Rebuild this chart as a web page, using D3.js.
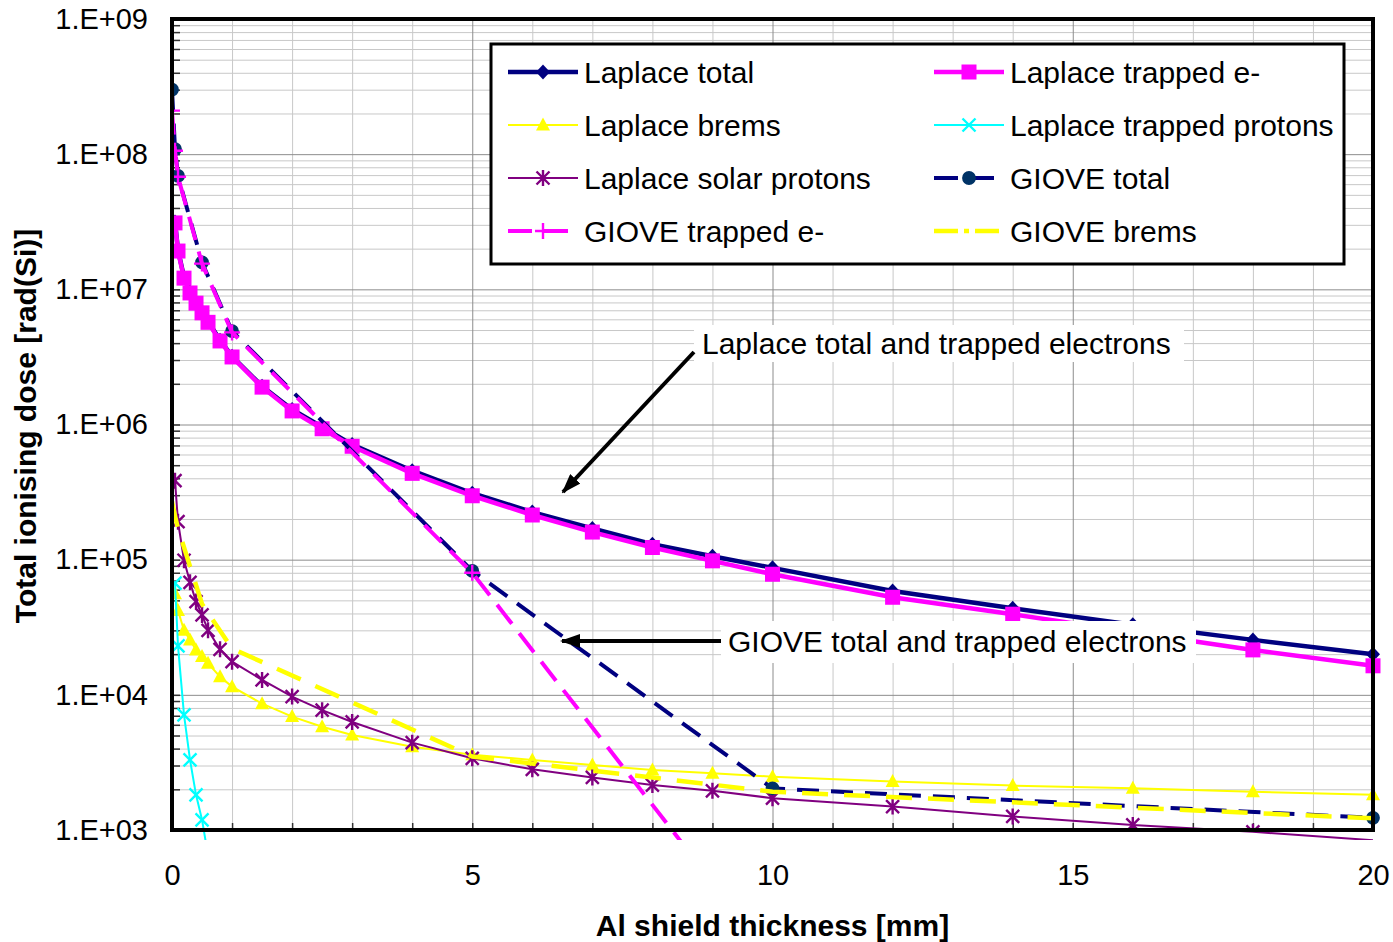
<!DOCTYPE html>
<html>
<head>
<meta charset="utf-8">
<script src="https://cdn.jsdelivr.net/npm/d3@7"></script>
<style>
  body { margin: 0; background: #fff; }
  text { font-family: "Liberation Sans", Arial, sans-serif; fill: #000; }
</style>
</head>
<body>
<div id="chart"></div>
<script>
// thickness values (mm)
const laplaceX = [0.05, 0.1, 0.2, 0.3, 0.4, 0.5, 0.6, 0.8, 1, 1.5, 2, 2.5, 3, 4, 5, 6, 7, 8, 9, 10, 12, 14, 16, 18, 20];
const gioveX = [0, 0.05, 0.1, 0.5, 1, 5, 10, 20];

// dose values rad(Si)
const laplaceTotal = [3.15e7, 1.95e7, 1.23e7, 9.5e6, 8.0e6, 6.8e6, 5.8e6, 4.2e6, 3.2e6, 1.92e6, 1.29e6, 9.6e5, 7.1e5, 4.55e5, 3.1e5, 2.25e5, 1.7e5, 1.3e5, 1.06e5, 8.7e4, 5.86e4, 4.37e4, 3.3e4, 2.55e4, 2.0e4];
const laplaceTrappedE = [3.1e7, 1.92e7, 1.21e7, 9.4e6, 7.9e6, 6.7e6, 5.7e6, 4.15e6, 3.16e6, 1.89e6, 1.26e6, 9.3e5, 6.9e5, 4.35e5, 2.97e5, 2.14e5, 1.6e5, 1.23e5, 9.8e4, 7.8e4, 5.27e4, 3.95e4, 2.9e4, 2.15e4, 1.64e4];
const laplaceBrems = [5.6e4, 4.2e4, 3.0e4, 2.55e4, 2.15e4, 1.92e4, 1.71e4, 1.36e4, 1.15e4, 8.6e3, 6.9e3, 5.8e3, 5.05e3, 4.13e3, 3.6e3, 3.3e3, 3.03e3, 2.78e3, 2.63e3, 2.48e3, 2.28e3, 2.13e3, 2.04e3, 1.92e3, 1.82e3];
const laplaceTrappedP = [6.7e4, 2.3e4, 7.1e3, 3.3e3, 1.82e3, 1.19e3, 6.5e2, null, null, null, null, null, null, null, null, null, null, null, null, null, null, null, null, null, null];
const laplaceSolarP = [3.84e5, 1.91e5, 9.9e4, 6.8e4, 4.9e4, 3.9e4, 3.0e4, 2.17e4, 1.76e4, 1.29e4, 9.7e3, 7.7e3, 6.3e3, 4.43e3, 3.39e3, 2.81e3, 2.45e3, 2.15e3, 1.95e3, 1.72e3, 1.49e3, 1.26e3, 1.09e3, 9.7e2, 8.4e2];
const gioveTotal = [3.0e8, 1.09e8, 6.9e7, 1.58e7, 4.9e6, 8.25e4, 2.03e3, 1.23e3];
const gioveTrappedE = [2.1e8, 1.06e8, 6.8e7, 1.55e7, 4.8e6, 8.0e4, 1.1e2, null];
const gioveBrems = [2.7e5, 2.1e5, 1.7e5, 4.7e4, 2.2e4, 3.5e3, 1.92e3, 1.22e3];

const xTicks = [0, 5, 10, 15, 20];
const yTicks = [1e3, 1e4, 1e5, 1e6, 1e7, 1e8, 1e9];

const series = [
  {name: "Laplace total", xs: laplaceX, ys: laplaceTotal, color: "#000080", w: 4.5, dash: null, legDash: null, marker: "diamond", mcolor: "#000080"},
  {name: "Laplace trapped e-", xs: laplaceX, ys: laplaceTrappedE, color: "#ff00ff", w: 4.5, dash: null, legDash: null, marker: "square", mcolor: "#ff00ff"},
  {name: "Laplace brems", xs: laplaceX, ys: laplaceBrems, color: "#ffff00", w: 2, dash: null, legDash: null, marker: "triangle", mcolor: "#ffff00"},
  {name: "Laplace trapped protons", xs: laplaceX, ys: laplaceTrappedP, color: "#00ffff", w: 2, dash: null, legDash: null, marker: "cross", mcolor: "#00ffff"},
  {name: "Laplace solar protons", xs: laplaceX, ys: laplaceSolarP, color: "#800080", w: 2, dash: null, legDash: null, marker: "star", mcolor: "#800080"},
  {name: "GIOVE total", xs: gioveX, ys: gioveTotal, color: "#000080", w: 4, dash: "22,12", legDash: "24,12", marker: "circle", mcolor: "#003366"},
  {name: "GIOVE trapped e-", xs: gioveX, ys: gioveTrappedE, color: "#ff00ff", w: 4, dash: "24,12", legDash: "24,12", marker: "plus", mcolor: "#ff00ff"},
  {name: "GIOVE brems", xs: gioveX, ys: gioveBrems, color: "#ffff00", w: 4.5, dash: "26,16", legDash: "24,6,5,6", marker: "none", mcolor: "#ffff00"}
];

// set the dimensions and margins of the graph
const margin = {top: 19, right: 20, bottom: 112, left: 172};
const width = 1393 - margin.left - margin.right;
const height = 942 - margin.top - margin.bottom;

const x = d3.scaleLinear().domain([0, 20]).range([0, width]);
const y = d3.scaleLog().domain([1e3, 1e9]).range([height, 0]);

const svg = d3.select("#chart").append("svg")
    .attr("width", 1393)
    .attr("height", 942);

const defs = svg.append("defs");
defs.append("clipPath").attr("id", "lineclip")
  .append("rect").attr("x", 0).attr("y", 0).attr("width", width + 4).attr("height", height + 10);
defs.append("clipPath").attr("id", "markclip")
  .append("rect").attr("x", -2).attr("y", -2).attr("width", width + 10).attr("height", height + 4);
defs.append("marker").attr("id", "arrow")
    .attr("markerUnits", "userSpaceOnUse")
    .attr("viewBox", "0 0 20 14")
    .attr("refX", 18).attr("refY", 7)
    .attr("markerWidth", 20).attr("markerHeight", 14)
    .attr("orient", "auto")
  .append("path").attr("d", "M0,0L20,7L0,14Z").attr("fill", "#000");

const graph = svg.append("g")
    .attr("transform", "translate(" + margin.left + "," + margin.top + ")");

// gridlines
const minorX = d3.range(0, 21).filter(d => d % 5 !== 0);
const minorY = [];
for (let e = 3; e < 9; e++) for (let k = 2; k <= 9; k++) minorY.push(k * Math.pow(10, e));

graph.append("g").attr("class", "grid")
    .attr("transform", "translate(0," + height + ")")
    .call(d3.axisBottom(x).tickValues(minorX).tickSize(-height).tickFormat(""))
    .call(g => g.select(".domain").remove())
    .call(g => g.selectAll("line").attr("stroke", "#c8c8c8"));
graph.append("g").attr("class", "grid")
    .call(d3.axisLeft(y).tickValues(minorY).tickSize(-width).tickFormat(""))
    .call(g => g.select(".domain").remove())
    .call(g => g.selectAll("line").attr("stroke", "#c8c8c8"));
graph.append("g").attr("class", "grid")
    .attr("transform", "translate(0," + height + ")")
    .call(d3.axisBottom(x).tickValues(xTicks).tickSize(-height).tickFormat(""))
    .call(g => g.select(".domain").remove())
    .call(g => g.selectAll("line").attr("stroke", "#8c8c8c"));
graph.append("g").attr("class", "grid")
    .call(d3.axisLeft(y).tickValues(yTicks).tickSize(-width).tickFormat(""))
    .call(g => g.select(".domain").remove())
    .call(g => g.selectAll("line").attr("stroke", "#8c8c8c"));

// ticks inside + labels
graph.append("g")
    .attr("transform", "translate(0," + height + ")")
    .call(d3.axisBottom(x).tickValues(d3.range(0, 21)).tickSizeInner(-7).tickSizeOuter(0).tickPadding(34)
      .tickFormat(d => d % 5 === 0 ? d : ""))
    .call(g => g.select(".domain").remove())
    .call(g => g.selectAll("line").attr("stroke", "#333").attr("stroke-width", 1.5))
    .call(g => g.selectAll("text").attr("font-size", 29).attr("font-family", "Liberation Sans, Arial, sans-serif"));
graph.append("g")
    .call(d3.axisLeft(y).tickValues(yTicks.concat(minorY)).tickSizeInner(-8).tickSizeOuter(0).tickPadding(24)
      .tickFormat(d => yTicks.indexOf(d) >= 0 ? "1.E+" + String(Math.round(Math.log10(d))).padStart(2, "0") : ""))
    .call(g => g.select(".domain").remove())
    .call(g => g.selectAll("line").attr("stroke", "#333").attr("stroke-width", 1.5))
    .call(g => g.selectAll("text").attr("font-size", 29).attr("font-family", "Liberation Sans, Arial, sans-serif"));

// marker shapes
function markerPath(type) {
  switch (type) {
    case "diamond": return "M0,-7.5L7,0L0,7.5L-7,0Z";
    case "square": return "M-7.5,-7.5h15v15h-15Z";
    case "triangle": return "M0,-7.5L7,5.5L-7,5.5Z";
    case "circle": return d3.symbol(d3.symbolCircle, 150)();
    case "plus": return "M-8,0H8M0,-8V8";
    case "cross": return "M-6.5,-6.5L6.5,6.5M-6.5,6.5L6.5,-6.5";
    case "star": return "M-6.5,-6.5L6.5,6.5M-6.5,6.5L6.5,-6.5M0,-8V8";
    default: return "";
  }
}
const filled = t => ["diamond", "square", "triangle", "circle"].indexOf(t) >= 0;

function drawMarker(sel, s) {
  sel.attr("d", markerPath(s.marker))
    .attr("fill", filled(s.marker) ? s.mcolor : "none")
    .attr("stroke", filled(s.marker) ? "none" : s.mcolor)
    .attr("stroke-width", 2.4);
}

const line = d3.line()
    .defined(d => d[1] != null)
    .x(d => x(d[0]))
    .y(d => y(d[1]));

const plot = graph.append("g");
series.forEach(s => {
  const pts = s.xs.map((v, i) => [v, s.ys[i]]);
  const g = plot.append("g");
  g.append("path")
    .datum(pts)
    .attr("clip-path", "url(#lineclip)")
    .attr("fill", "none")
    .attr("stroke", s.color)
    .attr("stroke-width", s.w)
    .attr("stroke-dasharray", s.dash)
    .attr("d", line);
  if (s.marker !== "none") {
    g.append("g").attr("clip-path", "url(#markclip)")
      .selectAll("path")
      .data(pts.filter(d => d[1] != null))
      .enter().append("path")
      .attr("transform", d => "translate(" + x(d[0]) + "," + y(d[1]) + ")")
      .each(function() { drawMarker(d3.select(this), s); });
  }
});

// plot frame
graph.append("rect")
    .attr("width", width).attr("height", height)
    .attr("fill", "none").attr("stroke", "#000").attr("stroke-width", 4);

// annotations
const ann = svg.append("g");
ann.append("rect").attr("x", 694).attr("y", 325).attr("width", 490).attr("height", 37).attr("fill", "#fff");
ann.append("text").attr("x", 702).attr("y", 343).attr("dy", "0.35em").attr("font-size", 30)
    .text("Laplace total and trapped electrons");
ann.append("line").attr("x1", 694).attr("y1", 352).attr("x2", 563).attr("y2", 492)
    .attr("stroke", "#000").attr("stroke-width", 4).attr("marker-end", "url(#arrow)");

ann.append("rect").attr("x", 721).attr("y", 621).attr("width", 475).attr("height", 42).attr("fill", "#fff");
ann.append("text").attr("x", 728).attr("y", 641).attr("dy", "0.35em").attr("font-size", 30)
    .text("GIOVE total and trapped electrons");
ann.append("line").attr("x1", 721).attr("y1", 641).attr("x2", 562).attr("y2", 641)
    .attr("stroke", "#000").attr("stroke-width", 4).attr("marker-end", "url(#arrow)");

// legend
const legend = svg.append("g");
legend.append("rect").attr("x", 491).attr("y", 44).attr("width", 853).attr("height", 220)
    .attr("fill", "#fff").attr("stroke", "#000").attr("stroke-width", 3);
series.forEach((s, i) => {
  const col = i % 2, row = Math.floor(i / 2);
  const lx = col === 0 ? 508 : 934;
  const ly = 72 + row * 53;
  const item = legend.append("g");
  item.append("line")
    .attr("x1", lx).attr("x2", lx + 70).attr("y1", ly).attr("y2", ly)
    .attr("stroke", s.color).attr("stroke-width", s.w)
    .attr("stroke-dasharray", s.legDash);
  if (s.marker !== "none") {
    item.append("path")
      .attr("transform", "translate(" + (lx + 35) + "," + ly + ")")
      .each(function() { drawMarker(d3.select(this), s); });
  }
  item.append("text").attr("x", lx + 76).attr("y", ly).attr("dy", "0.35em")
    .attr("font-size", 30).text(s.name);
});

// axis titles
svg.append("text")
    .attr("text-anchor", "middle")
    .attr("x", margin.left + width / 2)
    .attr("y", 925)
    .attr("dy", "0.35em")
    .attr("font-size", 30).attr("font-weight", "bold")
    .text("Al shield thickness [mm]");

svg.append("text")
    .attr("text-anchor", "middle")
    .attr("transform", "translate(25,426) rotate(-90)")
    .attr("dy", "0.35em")
    .attr("font-size", 30).attr("font-weight", "bold")
    .text("Total ionising dose [rad(Si)]");
</script>
</body>
</html>
